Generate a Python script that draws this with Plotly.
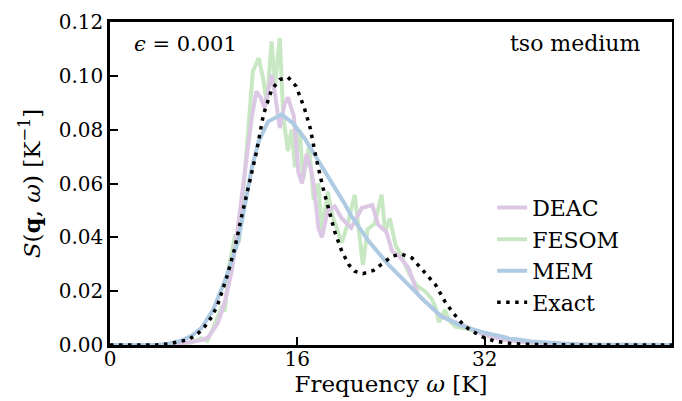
import plotly.graph_objects as go

# ---- data ----
omega_exact = [0, 4, 5, 6, 6.7, 7.5, 8.1, 8.7, 9.2, 9.95, 10.66, 11.2, 11.8, 12.5, 13.1, 13.8,
               14.5, 15.2, 15.9, 16.6, 17.1, 17.6, 18.2, 18.6, 19.2, 19.8, 20.4, 20.9, 21.6,
               22.5, 23.4, 24.1, 24.9, 25.8, 26.3, 27.1, 27.8, 28.6, 29.2, 29.8, 30.3, 31.2,
               32.0, 32.9, 34.2, 36, 40, 48]
s_exact = [0, 0, 0.0004, 0.0012, 0.002, 0.0042, 0.0069, 0.0105, 0.015, 0.0249, 0.036, 0.047,
           0.058, 0.0715, 0.0855, 0.0948, 0.0986, 0.0995, 0.0961, 0.088, 0.0806, 0.0695, 0.0583,
           0.052, 0.042, 0.0348, 0.0298, 0.0274, 0.0265, 0.0277, 0.0305, 0.033, 0.0338, 0.0323,
           0.0298, 0.0261, 0.0224, 0.0162, 0.0125, 0.0094, 0.0069, 0.0045, 0.0026, 0.0014,
           0.0006, 0.0002, 0, 0]

omega_mem = [0, 4, 5, 6, 7, 7.8, 8.8, 9.8, 10.95, 11.8, 12.1, 12.7, 13.5, 14.65, 15.6, 16.6,
             17.3, 18.1, 19.2, 20.1, 20.6, 22.1, 23.8, 25.5, 26.9, 28.3, 29.8, 31.8, 34.0, 36,
             38, 40, 42, 48]
s_mem = [0, 0, 0.0005, 0.0015, 0.0035, 0.0063, 0.013, 0.0237, 0.0385, 0.058, 0.0657, 0.0757,
         0.083, 0.0857, 0.0825, 0.0769, 0.072, 0.066, 0.058, 0.052, 0.048, 0.0385, 0.0298,
         0.0224, 0.0162, 0.0107, 0.0075, 0.0048, 0.0026, 0.0013, 0.0006, 0.0002, 0, 0]

omega_deac = [0, 5, 6, 7, 8, 8.4, 9.2, 9.8, 10.4, 10.95, 11.4, 11.7, 12.1, 12.5, 12.9, 13.2,
              13.8, 14.1, 14.5, 14.9, 15.2, 15.7, 16.1, 16.4, 16.8, 17.2, 17.4, 17.8, 18.1,
              18.6, 19.2, 19.8, 20.6, 21.5, 22.4, 22.9, 23.6, 24.1, 24.7, 25.5, 26.3, 27.2,
              28.3, 30.1, 31.8, 33.5, 36, 40, 48]
s_deac = [0, 0, 0.0005, 0.0012, 0.002, 0.003, 0.008, 0.016, 0.0274, 0.0447, 0.061, 0.070,
          0.0843, 0.0942, 0.0917, 0.088, 0.1004, 0.093, 0.0806, 0.0893, 0.092, 0.085, 0.064,
          0.060, 0.071, 0.0645, 0.0595, 0.0435, 0.040, 0.050, 0.0515, 0.047, 0.0435, 0.0509,
          0.052, 0.0447, 0.042, 0.0348, 0.033, 0.0286, 0.0187, 0.015, 0.0105, 0.0075, 0.004,
          0.002, 0.0008, 0.0002, 0]

omega_fesom = [0, 5, 6, 7, 7.8, 8.3, 8.8, 9.5, 9.8, 10.2, 10.7, 11.0, 11.5, 12.2, 12.7, 13.1,
               13.4, 13.8, 14.1, 14.5, 14.8, 15.2, 15.5, 15.8, 16.2, 16.5, 17.0, 17.4, 17.8,
               18.1, 18.6, 19.0, 19.8, 20.3, 20.9, 21.3, 21.6, 22.0, 22.6, 23.2, 23.5, 23.9,
               24.4, 24.9, 25.5, 26.2, 26.9, 27.5, 27.8, 28.1, 28.6, 29.0, 29.5, 30.5, 32,
               33.5, 36, 40, 48]
s_fesom = [0, 0, 0.0004, 0.001, 0.0025, 0.0015, 0.006, 0.0137, 0.0125, 0.030, 0.041, 0.038,
           0.063, 0.1016, 0.1066, 0.0985, 0.0892, 0.1128, 0.097, 0.114, 0.085, 0.072, 0.080,
           0.066, 0.080, 0.0615, 0.074, 0.054, 0.060, 0.042, 0.057, 0.048, 0.038, 0.045,
           0.0558, 0.040, 0.0298, 0.043, 0.045, 0.0558, 0.042, 0.047, 0.037, 0.033, 0.027,
           0.022, 0.020, 0.017, 0.014, 0.0085, 0.013, 0.009, 0.0068, 0.006, 0.004, 0.0025,
           0.0008, 0.0002, 0]

x_ticks = [0, 16, 32]
y_ticks = [0.00, 0.02, 0.04, 0.06, 0.08, 0.10, 0.12]
y_tick_labels = ["0.00", "0.02", "0.04", "0.06", "0.08", "0.10", "0.12"]

FONT = "DejaVu Serif"

fig = go.Figure()
fig.add_trace(go.Scatter(x=omega_fesom, y=s_fesom, mode="lines", name="FESOM", legendrank=2,
                         line=dict(color="#c8e8c3", width=4)))
fig.add_trace(go.Scatter(x=omega_deac, y=s_deac, mode="lines", name="DEAC", legendrank=1,
                         line=dict(color="#dcc8e4", width=4)))
fig.add_trace(go.Scatter(x=omega_mem, y=s_mem, mode="lines", name="MEM", legendrank=3,
                         line=dict(color="#aecbe3", width=4)))
fig.add_trace(go.Scatter(x=omega_exact, y=s_exact, mode="lines", name="Exact", legendrank=4,
                         line=dict(color="black", width=3.5, dash="3.5px,5.5px")))

fig.update_layout(
    width=682, height=401,
    margin=dict(l=102, r=18, t=14, b=64, autoexpand=False),
    paper_bgcolor="white", plot_bgcolor="white",
    font=dict(family=FONT, size=20, color="black"),
    showlegend=True,
    legend=dict(x=0.68, y=0.49, xanchor="left", yanchor="top",
                bgcolor="rgba(0,0,0,0)", font=dict(size=22, family=FONT),
                itemwidth=30, tracegroupgap=0, traceorder="normal"),
    annotations=[
        dict(text="<i>ϵ</i> = 0.001", xref="paper", yref="paper", x=0.04, y=0.932,
             xanchor="left", yanchor="middle", showarrow=False,
             font=dict(size=21, family=FONT)),
        dict(text="tso medium", xref="paper", yref="paper", x=0.948, y=0.932,
             xanchor="right", yanchor="middle", showarrow=False,
             font=dict(size=22, family=FONT)),
    ],
)
fig.update_xaxes(range=[0, 48], tickvals=x_ticks, ticktext=[str(v) for v in x_ticks],
                 ticks="inside", ticklen=8, tickwidth=2, tickcolor="black",
                 ticklabelstandoff=-6,
                 showline=True, linecolor="black", linewidth=2.5, mirror=True,
                 showgrid=False, zeroline=False,
                 title=dict(text="Frequency <i>ω</i> [K]", font=dict(size=23, family=FONT),
                            standoff=0))
fig.update_yaxes(range=[0, 0.12], tickvals=y_ticks, ticktext=y_tick_labels,
                 ticks="inside", ticklen=8, tickwidth=2, tickcolor="black",
                 showline=True, linecolor="black", linewidth=2.5, mirror=True,
                 showgrid=False, zeroline=False,
                 title=dict(text="<i>S</i>(<b>q</b>, <i>ω</i>) [K<sup>−1</sup>]",
                            font=dict(size=23, family=FONT), standoff=12))

fig.write_html("out.html")
